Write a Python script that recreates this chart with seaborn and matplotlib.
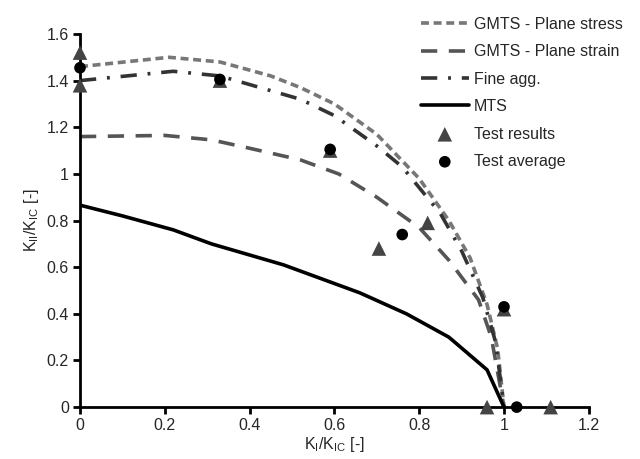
import matplotlib
matplotlib.use("Agg")
import matplotlib.pyplot as plt
import seaborn as sns
import pandas as pd

# curves (KI/KIC, KII/KIC)
stress_x = [0, 0.21, 0.33, 0.45, 0.52, 0.60, 0.70, 0.80, 0.87, 0.92, 0.96, 0.985, 1.0]
stress_y = [1.46, 1.50, 1.48, 1.42, 1.37, 1.30, 1.17, 0.98, 0.80, 0.64, 0.44, 0.25, 0.0]

strain_x = [0, 0.20, 0.31, 0.40, 0.52, 0.61, 0.70, 0.80, 0.87, 0.94, 0.97, 1.0]
strain_y = [1.16, 1.165, 1.146, 1.11, 1.06, 1.00, 0.90, 0.77, 0.63, 0.46, 0.30, 0.0]

fine_x = [0, 0.22, 0.33, 0.52, 0.60, 0.70, 0.76, 0.85, 0.90, 0.95, 0.98, 1.0]
fine_y = [1.40, 1.44, 1.42, 1.32, 1.25, 1.12, 1.03, 0.83, 0.67, 0.47, 0.28, 0.0]

mts_x = [0, 0.10, 0.22, 0.31, 0.48, 0.57, 0.66, 0.77, 0.87, 0.96, 1.0]
mts_y = [0.866, 0.82, 0.76, 0.70, 0.61, 0.55, 0.49, 0.40, 0.30, 0.16, 0.0]

test_x = [0, 0, 0.33, 0.59, 0.705, 0.82, 1.0, 0.96, 1.11]
test_y = [1.52, 1.38, 1.40, 1.10, 0.68, 0.79, 0.42, 0.0, 0.0]

avg_x = [0, 0.33, 0.59, 0.76, 1.0, 1.03]
avg_y = [1.455, 1.405, 1.105, 0.74, 0.43, 0.0]

sns.set_style("white")
plt.rcParams["font.family"] = ["Liberation Sans", "DejaVu Sans"]
plt.rcParams["mathtext.fontset"] = "custom"
plt.rcParams["mathtext.rm"] = "Liberation Sans"

fig = plt.figure(figsize=(6.4, 4.59), dpi=100)
ax = fig.add_axes([0.125, 0.113, 0.795, 0.813])

sns.lineplot(x=stress_x, y=stress_y, sort=False, ax=ax, color="#777777", lw=2.6,
             label="GMTS - Plane stress", estimator=None)
ax.lines[-1].set_dashes([2.2, 1.3])
sns.lineplot(x=strain_x, y=strain_y, sort=False, ax=ax, color="#555555", lw=2.6,
             label="GMTS - Plane strain", estimator=None)
ax.lines[-1].set_dashes([4.5, 3.2])
sns.lineplot(x=fine_x, y=fine_y, sort=False, ax=ax, color="#333333", lw=2.6,
             label="Fine agg.", estimator=None)
ax.lines[-1].set_dashes([4.5, 3.0, 0.8, 3.0])
sns.lineplot(x=mts_x, y=mts_y, sort=False, ax=ax, color="black", lw=2.6,
             label="MTS", estimator=None)

sns.scatterplot(x=test_x, y=test_y, ax=ax, marker="^", s=110, color="#444444",
                edgecolor="none", label="Test results", clip_on=False, zorder=5)
sns.scatterplot(x=avg_x, y=avg_y, ax=ax, marker="o", s=70, color="black",
                edgecolor="none", label="Test average", clip_on=False, zorder=6)

ax.set_xlim(0, 1.2)
ax.set_ylim(0, 1.6)
ax.set_xticks([0, 0.2, 0.4, 0.6, 0.8, 1.0, 1.2])
ax.set_xticklabels(["0", "0.2", "0.4", "0.6", "0.8", "1", "1.2"])
ax.set_yticks([0, 0.2, 0.4, 0.6, 0.8, 1.0, 1.2, 1.4, 1.6])
ax.set_yticklabels(["0", "0.2", "0.4", "0.6", "0.8", "1", "1.2", "1.4", "1.6"])

sns.despine(ax=ax)
for s in ["left", "bottom"]:
    ax.spines[s].set_linewidth(2)
    ax.spines[s].set_color("black")
ax.tick_params(direction="out", length=5, width=2, labelsize=11.5, color="black",
               left=True, bottom=True, pad=3)

ax.set_xlabel(r"K$_\mathregular{I}$/K$_\mathregular{IC}$ [-]", fontsize=11.5, labelpad=1)
ax.set_ylabel(r"K$_\mathregular{II}$/K$_\mathregular{IC}$ [-]", fontsize=11.5, labelpad=4)

ax.legend(loc="upper right", bbox_to_anchor=(0.995, 0.995), bbox_transform=fig.transFigure,
          frameon=False, fontsize=11.5, handlelength=3.0, handletextpad=0.3,
          labelspacing=0.78)

fig.savefig("out.png", dpi=100)
